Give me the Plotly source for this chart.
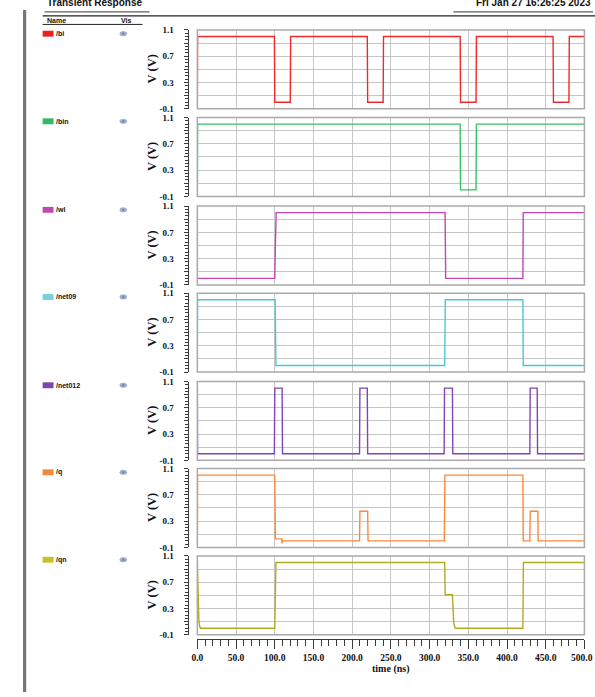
import plotly.graph_objects as go

# ---------------- data ----------------
signal_names = ["/bi", "/bin", "/wl", "/net09", "/net012", "/q", "/qn"]
signal_colors = ["#f02a2a", "#38c068", "#c445b4", "#48c8d2", "#8244b4", "#ff8838", "#b4aa22"]
swatch_colors = ["#ee2020", "#34b866", "#c048b0", "#74d2da", "#7a48a8", "#f28a3a", "#c8c028"]

time_bi = [0, 0.3, 99.5, 100, 120, 120.5, 219.5, 220, 240, 240.5, 339.5, 340, 360, 360.5, 459.5, 460, 480, 480.5, 500]
volt_bi = [0, 1.0, 1.0, 0.0, 0.0, 1.0, 1.0, 0.0, 0.0, 1.0, 1.0, 0.0, 0.0, 1.0, 1.0, 0.0, 0.0, 1.0, 1.0]

time_bin = [0, 0.3, 339.5, 340, 360, 360.5, 500]
volt_bin = [0, 1.0, 1.0, 0.0, 0.0, 1.0, 1.0]

time_wl = [0, 100, 100.6, 101.8, 320, 320.8, 420.5, 421, 500]
volt_wl = [0.0, 0.0, 0.4, 1.0, 1.0, 0.0, 0.0, 1.0, 1.0]

time_net09 = [0, 0.3, 100.5, 101.5, 319.5, 320.3, 420.5, 421, 500]
volt_net09 = [0.3, 1.0, 1.0, 0.0, 0.0, 1.0, 1.0, 0.0, 0.0]

time_net012 = [0, 0.3, 99.5, 100, 109.5, 110, 209.5, 210, 219.5, 220, 318.8, 319.3, 329.5, 330, 429.5, 430, 439, 439.5, 500]
volt_net012 = [1.0, 0.0, 0.0, 1.0, 1.0, 0.0, 0.0, 1.0, 1.0, 0.0, 0.0, 1.0, 1.0, 0.0, 0.0, 1.0, 1.0, 0.0, 0.0]

time_q = [0, 0.3, 100, 100.8, 109, 109.5, 110.2, 209.5, 210, 220, 220.5, 319, 319.8, 420.5, 421, 429.5, 430, 439.8, 440.3, 500]
volt_q = [0.0, 1.0, 1.0, 0.03, 0.03, -0.04, 0.0, 0.0, 0.45, 0.45, 0.0, 0.0, 1.0, 1.0, 0.0, 0.0, 0.45, 0.45, 0.0, 0.0]

time_qn = [0, 0.5, 1.0, 1.5, 2.0, 3.0, 4.0, 100, 100.5, 101.5, 319.5, 320.2, 329.5, 330.3, 331.2, 333, 420.5, 421.2, 500]
volt_qn = [1.0, 0.72, 0.42, 0.22, 0.1, 0.03, 0.0, 0.0, 0.5, 1.0, 1.0, 0.51, 0.51, 0.25, 0.08, 0.0, 0.0, 1.0, 1.0]

all_times = [time_bi, time_bin, time_wl, time_net09, time_net012, time_q, time_qn]
all_volts = [volt_bi, volt_bin, volt_wl, volt_net09, volt_net012, volt_q, volt_qn]

x_tick_vals = [0, 50, 100, 150, 200, 250, 300, 350, 400, 450, 500]
x_tick_text = ["0.0", "50.0", "100.0", "150.0", "200.0", "250.0", "300.0", "350.0", "400.0", "450.0", "500.0"]
y_tick_vals = [-0.1, 0.1, 0.3, 0.5, 0.7, 0.9, 1.1]
y_tick_text = ["-0.1", "", "0.3", "", "0.7", "", "1.1"]

# ---------------- layout helpers ----------------
W, H = 595, 697
def xp(px):
    return px / W
def yp(py):
    return 1 - py / H

PLOT_L, PLOT_R = 193.3, 584.3
panel_tops = [25.3, 114.2, 204.0, 292.4, 382.0, 470.3, 559.0]
PANEL_H = 80.0

FONT_NUM = "Liberation Serif"
GRID = "#c6c6c6"
BORDER = "#a9a9a9"
AXLINE = "#3a3a3a"
TICKFONT_X = dict(family=FONT_NUM, size=9.5, color="#111", weight="bold")

fig = go.Figure()
shapes = []
annotations = []
layout = dict(
    width=W, height=H,
    margin=dict(l=0, r=0, t=0, b=0),
    paper_bgcolor="white", plot_bgcolor="white",
    showlegend=False,
)

# the last tick label sits at the page edge; draw it separately so it stays inside the page
shown_x_text = x_tick_text[:-1] + [""]

for i in range(7):
    n = i + 1
    xa = "x" if n == 1 else f"x{n}"
    ya = "y" if n == 1 else f"y{n}"
    xkey = "xaxis" if n == 1 else f"xaxis{n}"
    ykey = "yaxis" if n == 1 else f"yaxis{n}"
    top = panel_tops[i]
    bot = top + PANEL_H

    fig.add_trace(go.Scatter(
        x=all_times[i], y=all_volts[i], mode="lines",
        line=dict(color=signal_colors[i], width=1.4),
        xaxis=xa, yaxis=ya, hoverinfo="skip",
    ))

    xaxis = dict(
        domain=[xp(PLOT_L), xp(PLOT_R)], range=[0, 500],
        tickmode="array", tickvals=x_tick_vals,
        showgrid=True, gridcolor=GRID, gridwidth=1.4,
        zeroline=False, showline=False, fixedrange=True,
    )
    if n < 7:
        xaxis.update(anchor=ya, showticklabels=False, ticks="")
    else:
        xaxis.update(
            anchor="free", position=yp(643.5),
            ticktext=shown_x_text, showticklabels=True,
            ticks="outside", ticklen=9, tickwidth=1, tickcolor=AXLINE,
            showline=True, linecolor=AXLINE, linewidth=1.3,
            minor=dict(tickmode="linear", tick0=0, dtick=10, ticks="outside",
                       ticklen=6, tickwidth=1, tickcolor=AXLINE, showgrid=False),
            tickfont=TICKFONT_X,
        )
    layout[xkey] = xaxis

    layout[ykey] = dict(
        domain=[yp(bot), yp(top)], range=[-0.1, 1.1],
        anchor="free", position=xp(183.5),
        tickmode="array", tickvals=y_tick_vals, ticktext=y_tick_text,
        showgrid=True, gridcolor=GRID, gridwidth=1.4,
        zeroline=False, showline=True, linecolor=AXLINE, linewidth=1,
        ticks="outside", ticklen=4, tickwidth=1, tickcolor=AXLINE,
        minor=dict(tickmode="linear", tick0=-0.1, dtick=0.05, ticks="outside",
                   ticklen=2.5, tickwidth=1, tickcolor=AXLINE, showgrid=False),
        ticklabelstandoff=8,
        tickfont=dict(family=FONT_NUM, size=9, color="#111", weight="bold"),
        fixedrange=True,
    )

    # panel border
    shapes.append(dict(type="rect", xref="paper", yref="paper",
                       x0=xp(PLOT_L), x1=xp(PLOT_R), y0=yp(bot), y1=yp(top),
                       line=dict(color=BORDER, width=1.5), layer="above"))

    # y title
    annotations.append(dict(text="V (V)", xref="paper", yref="paper",
                            x=xp(147.5), y=yp(top + PANEL_H / 2), textangle=-90,
                            showarrow=False, xanchor="center", yanchor="middle",
                            font=dict(family=FONT_NUM, size=12.5, color="#111", weight="bold")))

    # legend column: swatch, name, visibility eye
    ry = top + 3.8
    shapes.append(dict(type="rect", xref="paper", yref="paper",
                       x0=xp(37), x1=xp(48), y0=yp(ry + 3), y1=yp(ry - 3),
                       fillcolor=swatch_colors[i], line=dict(width=0)))
    annotations.append(dict(text=signal_names[i], xref="paper", yref="paper",
                            x=xp(48.5), y=yp(ry), showarrow=False,
                            xanchor="left", yanchor="middle",
                            font=dict(family="Liberation Sans", size=7, color="#111", weight="bold")))
    shapes.append(dict(type="circle", xref="paper", yref="paper",
                       x0=xp(115), x1=xp(122), y0=yp(ry + 2.2), y1=yp(ry - 2.2),
                       fillcolor="#a7b3d3", line=dict(color="#8f9cc0", width=0.6)))
    shapes.append(dict(type="circle", xref="paper", yref="paper",
                       x0=xp(117.3), x1=xp(119.7), y0=yp(ry + 1.2), y1=yp(ry - 1.2),
                       fillcolor="#6f7fae", line=dict(width=0)))

# last x tick label, kept inside the page edge
annotations.append(dict(text=x_tick_text[-1], xref="paper", yref="paper",
                        x=1.0, y=yp(662.5), showarrow=False,
                        xanchor="right", yanchor="middle", font=TICKFONT_X))

# x axis title
annotations.append(dict(text="time (ns)", xref="paper", yref="paper",
                        x=xp(388.5), y=yp(674), showarrow=False,
                        xanchor="center", yanchor="middle",
                        font=dict(family=FONT_NUM, size=10, color="#111", weight="bold")))

# header area
annotations.append(dict(text="Name", xref="paper", yref="paper", x=xp(39), y=yp(15.3),
                        showarrow=False, xanchor="left", yanchor="middle",
                        font=dict(family="Liberation Sans", size=7, color="#111", weight="bold")))
annotations.append(dict(text="Vis", xref="paper", yref="paper", x=xp(114.5), y=yp(15.3),
                        showarrow=False, xanchor="left", yanchor="middle",
                        font=dict(family="Liberation Sans", size=7, color="#111", weight="bold")))
# page header texts, cut off by the top edge as in the printout
annotations.append(dict(text="Transient Response", xref="paper", yref="paper", x=xp(39), y=yp(5.5),
                        showarrow=False, xanchor="left", yanchor="bottom",
                        font=dict(family="Liberation Sans", size=10, color="#111", weight="bold")))
annotations.append(dict(text="Fri Jan 27 16:26:25 2023", xref="paper", yref="paper", x=xp(593), y=yp(5.5),
                        showarrow=False, xanchor="right", yanchor="bottom",
                        font=dict(family="Liberation Sans", size=10, color="#111", weight="bold")))

shapes.append(dict(type="line", xref="paper", yref="paper", x0=xp(37), x1=xp(138),
                   y0=yp(19.7), y1=yp(19.7), line=dict(color="#222", width=1)))
shapes.append(dict(type="line", xref="paper", yref="paper", x0=xp(37), x1=xp(595),
                   y0=yp(11), y1=yp(11), line=dict(color="#222", width=1.3)))
shapes.append(dict(type="line", xref="paper", yref="paper", x0=xp(39), x1=xp(145),
                   y0=yp(7), y1=yp(7), line=dict(color="#333", width=1)))
shapes.append(dict(type="line", xref="paper", yref="paper", x0=xp(452), x1=xp(593),
                   y0=yp(7), y1=yp(7), line=dict(color="#333", width=1)))
# left gray bar
shapes.append(dict(type="line", xref="paper", yref="paper", x0=xp(18.8), x1=xp(18.8),
                   y0=yp(5), y1=yp(697), line=dict(color="#767676", width=3.2)))

layout["shapes"] = shapes
layout["annotations"] = annotations
fig.update_layout(**layout)

fig.write_html("out.html")
